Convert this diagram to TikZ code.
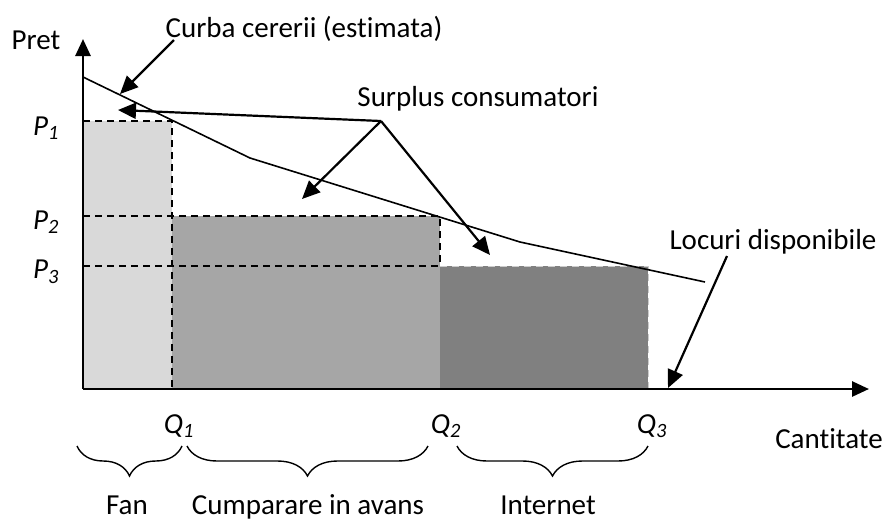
\documentclass[tikz,border=0pt]{standalone}
\usepackage{fontspec}
\setmainfont{Carlito}[Ligatures=NoCommon]
\usetikzlibrary{arrows.meta,decorations.pathreplacing}
\definecolor{fanfill}{HTML}{D9D9D9}
\definecolor{avansfill}{HTML}{A6A6A6}
\definecolor{netfill}{HTML}{808080}
\begin{document}
\begin{tikzpicture}[x=1pt,y=-1pt,
  lbl/.style={inner sep=0pt,font=\fontsize{29}{34}\selectfont},
  axis/.style={line width=2.8pt,-{Triangle[length=17pt,width=15pt]}},
  pointer/.style={line width=2.2pt,-{Triangle[length=18pt,width=16pt]}},
  level/.style={line width=1.5pt,dashed,dash pattern=on 7pt off 5pt},
  demand/.style={line width=1.6pt},
  segbrace/.style={line width=1.4pt,decorate,decoration={brace,mirror,amplitude=30pt}}]
\useasboundingbox (0,0) rectangle (886,523);

% price bands
\fill[fanfill] (83,121) rectangle (172,388);
\fill[avansfill] (172,216) rectangle (440,388);
\fill[netfill] (440,266) rectangle (648,388);
\draw[level,gray!40,line width=1pt] (440,266) -- (648,266) -- (648,388);

% dashed price and quantity levels
\draw[level] (83,121) -- (172,121) -- (172,388);
\draw[level] (83,216) -- (440,216) -- (440,266);
\draw[level] (83,266) -- (440,266);

% axes
\coordinate (O) at (83,389);
\coordinate (ytip) at (83,39);
\coordinate (xtip) at (869,389);
\draw[axis] (O) -- (ytip);
\draw[axis] (O) -- (xtip);

% estimated demand curve
\coordinate (d0) at (83,77);
\coordinate (d1) at (250,158);
\coordinate (d2) at (520,242);
\coordinate (d3) at (705,282);
\draw[demand] (d0) -- (d1) -- (d2) -- (d3);

% axis and level labels
\node[lbl] (pret) at (36,40) {Pret};
\node[lbl] (cant) at (829,439) {Cantitate};
\node[lbl] (p1) at (46,128) {\itshape P\textsubscript{1}};
\node[lbl] (p2) at (46,222) {\itshape P\textsubscript{2}};
\node[lbl] (p3) at (46,272) {\itshape P\textsubscript{3}};
\node[lbl] (q1) at (179,426) {\itshape Q\textsubscript{1}};
\node[lbl] (q2) at (446,426) {\itshape Q\textsubscript{2}};
\node[lbl] (q3) at (652,426) {\itshape Q\textsubscript{3}};

% annotations
\node[lbl] (curba) at (304,29) {Curba cererii (estimata)};
\node[lbl] (surplus) at (478,99) {Surplus consumatori};
\node[lbl] (locuri) at (773,242) {Locuri disponibile};
\coordinate (curbafoot) at (174,40);
\coordinate (apex) at (381,121);
\coordinate (locfoot) at (727,256);
\coordinate (s1) at (118,110);
\coordinate (s2) at (302,199);
\coordinate (s3) at (490,255);
\coordinate (c1) at (120,94);
\coordinate (l1) at (668,388);
\draw[pointer] (curbafoot) -- (c1);
\draw[pointer] (apex) -- (s1);
\draw[pointer] (apex) -- (s2);
\draw[pointer] (apex) -- (s3);
\draw[pointer] (locfoot) -- (l1);

% sales channels
\coordinate (b0) at (77,446);
\coordinate (b1) at (182,446);
\coordinate (b2) at (187,446);
\coordinate (b3) at (428,446);
\coordinate (b4) at (457,446);
\coordinate (b5) at (648,446);
\draw[segbrace] (b0) -- (b1);
\draw[segbrace] (b2) -- (b3);
\draw[segbrace] (b4) -- (b5);
\node[lbl,anchor=base] (fan) at (127,514) {Fan};
\node[lbl,anchor=base] (avans) at (308,514) {Cumparare in avans};
\node[lbl,anchor=base] (internet) at (548,514) {Internet};
\end{tikzpicture}
\end{document}
